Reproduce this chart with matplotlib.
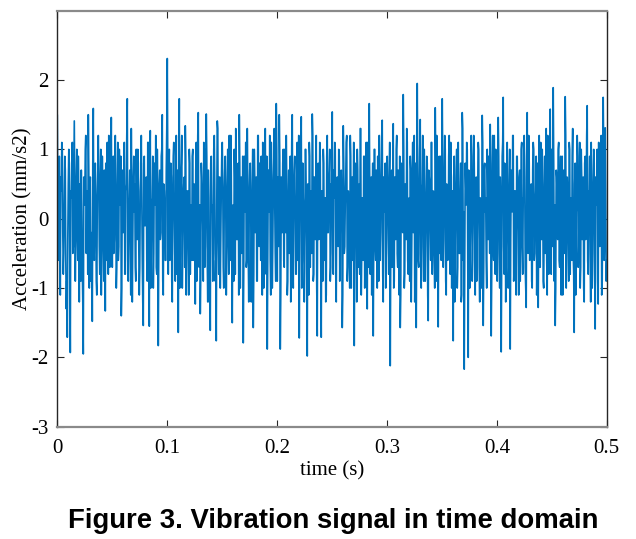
import matplotlib
matplotlib.use('Agg')
import matplotlib.pyplot as plt
import numpy as np

# acceleration samples, 0.05 s per block (even samples)
acc_000_005 = [1.49, -0.6, 0.9, -1.1, 0.4, 1.0, -0.8, 0.2, 0.7, -1.3, -1.71, 0.5, 0.8, -1.93, 0.3,
               1.1, -0.4, 1.41, -0.9, 0.6, -0.2, 0.9, -1.2, 0.1, 0.7, -0.7, -1.95, 0.4, 1.0, -0.5,
               0.2, 1.5, -1.0, 0.6, -0.3, -1.48, 1.59, -0.6, 0.8, -0.9, 0.3, 1.2, -0.4, 0.5, -1.1,
               0.9, -0.2, 0.7, -1.33, 0.4, 1.1, -0.8, 0.2, -0.5, 1.46]
acc_005_010 = [-0.7, 0.9, -0.3, 1.2, -1.0, 0.4, -0.6, 1.0, 0.2, -1.40, 0.7, -0.2, 1.1, -0.8, 0.5,
               1.73, -0.9, 0.3, -0.4, 1.3, -1.2, 0.6, 0.1, -0.7, 1.0, -0.3, 0.8, -1.1, 0.4, 1.2,
               -0.6, -1.54, 0.9, -0.1, 0.6, -0.9, 1.1, -1.55, 1.27, -0.5, 0.3, -1.0, 0.8, 0.2, -0.7,
               1.0, -1.83, 0.5, -0.3, 0.9, 1.5, -1.1, 0.4, -0.6, 0.7]
acc_010_015 = [2.31, -0.8, 1.0, -0.2, 0.6, -1.2, 0.9, 0.1, -0.9, 1.2, -0.4, -1.64, 1.73, -0.5, 0.8,
               -1.0, 0.3, 0.6, 1.34, -1.1, 0.4, -0.3, 1.0, -0.8, 0.2, 0.9, -0.6, 0.5, -1.23, 1.1,
               -0.2, 1.53, -0.7, -1.37, 0.8, 0.3, -0.9, 1.0, -0.4, 1.51, -0.6, 0.7, -1.2, -1.61, 0.9,
               0.2, -0.5, 1.2, -0.9, -1.76, 1.41, -0.3, 0.6, -1.0, 0.4]
acc_015_020 = [1.1, -0.7, 0.3, 0.9, -1.1, 0.5, -0.2, 1.2, -0.6, 0.7, -1.5, 0.2, 1.0, -0.8, 0.4,
               -0.3, 0.8, 1.5, -1.0, 0.6, -0.4, -1.79, 0.9, 0.1, -0.7, 1.3, -0.5, 0.3, 0.8, -1.2,
               0.5, -1.57, 1.0, -0.2, 0.6, -0.9, 1.2, -0.4, 0.2, 0.9, -1.1, 0.6, -0.3, 1.3, -0.8,
               -1.88, 0.7, 0.1, -0.6, 1.1, -1.0, 0.4, 1.3, -0.5, 1.66]
acc_020_025 = [-0.9, 0.3, 1.5, -1.88, 0.6, -0.2, 1.0, -0.7, 0.4, 1.2, -1.1, 0.2, -0.5, 0.9, -0.3,
               1.5, -1.0, 0.7, 0.1, -0.8, 1.1, -0.4, -1.72, 0.8, 1.47, -0.6, 0.3, -1.2, 1.0, 0.2,
               -1.98, 0.5, 1.1, -0.7, 0.4, 1.51, -0.9, 0.6, -0.3, 1.2, -1.69, 0.8, 0.1, 0.9, -1.71,
               0.4, 1.0, -0.6, 0.3, -1.1, 1.2, -0.2, 0.7, -0.9, 0.5]
acc_025_030 = [1.54, -0.8, 0.3, 1.0, -1.2, 0.6, -0.4, 0.9, -0.1, 0.7, -1.57, 1.34, -0.5, 0.2, 1.1,
               -0.9, 0.4, -0.3, 1.2, -1.0, 0.6, 0.1, -1.83, 0.8, -0.2, 1.0, -0.7, 0.5, 1.3, -1.1,
               0.3, -0.6, 0.9, -0.2, 1.1, -1.3, 0.4, 1.66, -0.8, 0.6, 0.2, -1.69, 1.0, -0.4, 0.7,
               -1.0, 0.3, 1.2, -0.6, 0.5, 1.42, -1.2, 0.2, 0.8, -0.5]
acc_030_035 = [0.9, -0.3, 0.6, -2.12, 0.4, -0.7, 1.37, -0.9, 0.2, 1.0, -0.5, 0.7, -1.1, -1.57, 0.8,
               0.1, 1.79, -1.0, 0.5, -0.3, 1.1, -0.8, 0.3, 0.9, -1.2, 0.6, -0.2, 1.2, -0.7, -1.57,
               1.95, -0.6, 0.3, 1.43, -1.0, 0.5, -0.4, 1.0, -0.9, 0.2, 0.8, -1.47, 0.6, -0.2, 1.1,
               -0.8, 0.4, -0.5, 1.6, -0.9, 0.7, -1.56, 0.9, 0.2, -0.6]
acc_035_040 = [1.73, -0.7, 0.4, 1.0, -1.1, 0.3, -0.4, 1.2, -0.8, 0.6, 0.1, -1.76, 0.9, -0.3, 0.7,
               -1.0, 1.1, -0.5, 0.3, -1.2, 1.53, -0.6, -2.17, 0.8, 0.2, 1.0, -2.0, 0.5, -0.4, 1.2,
               -0.9, 0.4, 0.8, -1.1, 0.6, -0.2, 1.1, -0.7, 0.3, -1.0, 1.49, -1.54, 0.7, 0.1, -0.6,
               1.0, -0.3, 0.5, 1.36, -1.69, 0.8, -0.4, 1.2, -0.8, 0.4]
acc_040_045 = [-0.9, 1.46, -0.5, 0.6, -1.92, 0.9, 1.75, -0.8, 0.2, -0.3, 1.1, -1.0, 0.5, -1.88, 0.7,
               0.1, 1.2, -0.6, 0.4, -1.1, 0.9, -0.2, 0.6, -0.9, 1.0, -0.4, 0.3, 1.2, -0.7, -1.28,
               1.53, -0.5, 0.8, -0.1, 0.5, -1.0, 1.1, -0.6, 0.2, 0.9, -0.3, -1.28, 1.2, -0.7, 0.4,
               1.0, -0.9, 0.2, -0.5, 1.3, -1.1, 0.6, -0.2, 1.58, -0.8]
acc_045_050 = [0.5, 1.89, -0.9, -1.54, 0.7, 0.2, 1.0, -0.6, 0.4, -1.1, 0.9, -0.3, 0.5, 1.76, -1.0,
               0.6, -0.2, 1.1, -0.8, 0.3, 0.9, -0.5, -1.64, 0.8, 0.1, 1.2, -0.7, 0.4, -1.0, 1.0,
               -0.3, 0.6, -1.2, 0.9, 0.2, 1.63, -0.8, 0.3, -0.5, 1.1, -1.0, 0.5, 0.8, -1.59, 0.6,
               1.0, -1.23, 0.4, -0.3, 1.2, -0.9, 1.75, -0.6, 1.31, -0.9]

# odd samples (in between the ones above)
mid_000_005 = [0.3, 0.1, -0.4, 0.6, 1.1, -0.2, -0.5, 0.9, -0.6, -0.9, -0.3,
               1.0, -0.7, 0.4, 0.8, -0.5, 0.6, 0.2, -0.3, 1.0, -0.6, 0.3,
               0.5, -0.9, 0.1, -1.2, 0.6, 0.2, 1.2, 0.4, -0.8, 0.7, 0.3,
               -0.9, -0.2, 0.8, -0.3, 0.4, 0.2, -1.1, 0.7, 0.6, -0.8, 1.0,
               -0.4, 0.3, -0.9, 0.1, 0.8, -0.6, 0.3, 1.2, -0.7, 0.6, -0.2]
mid_005_010 = [0.2, -0.5, 0.8, 0.3, -0.7, 1.1, -0.4, 0.5, 0.9, -1.0, 0.2,
               0.6, -0.8, 0.4, 1.2, -0.6, 0.1, 0.7, -1.1, 0.3, -0.2, 0.9,
               0.5, -0.9, 0.2, 1.0, -0.4, -0.7, 0.6, 0.3, -1.2, 0.8, -0.1,
               0.4, -0.6, 1.1, -0.3, 0.7, -1.0, 0.2, 0.9, -0.5, 0.6, 1.2,
               -0.8, 0.3, -0.4, 0.7, -0.2, 1.0, -0.9, 0.5, 0.1, -0.6, 1.3]
mid_010_015 = [0.9, 0.4, -0.6, 0.8, -0.9, 0.2, 1.1, -0.5, 0.3, -0.8, 0.7,
               0.2, -1.0, 0.6, 1.2, -0.3, 0.5, -0.7, 0.9, -0.2, 0.4, -1.1,
               0.8, 0.1, -0.6, 1.0, -0.4, 0.3, 0.7, -0.9, 1.2, -0.5, 0.2,
               -0.8, 0.6, -0.1, 1.1, -0.7, 0.4, 0.9, -1.2, 0.3, -0.5, 0.8,
               0.1, -0.9, 1.0, 0.5, -0.6, 0.2, 1.3, -0.8, 0.6, -0.3, 0.9]
mid_015_020 = [0.5, -1.0, 0.7, 0.2, -0.4, 1.0, -0.8, 0.3, 1.2, -0.6, 0.1,
               -0.9, 0.6, 1.3, -0.3, 0.4, -1.1, 0.8, 0.2, -0.5, 0.9, -0.7,
               0.3, 1.1, -0.6, 0.5, -1.2, 0.7, 0.1, -0.4, 1.0, -0.8, 0.6,
               0.2, -0.9, 1.2, -0.3, 0.8, -0.6, 0.4, 1.1, -1.0, 0.5, -0.2,
               0.9, -0.7, 0.3, 1.2, -1.1, 0.6, -0.4, 0.8, 0.2, -0.9, 1.0]
mid_020_025 = [0.6, -0.4, 0.9, -1.1, 0.3, 0.8, -0.6, 1.0, -0.2, 0.5, -0.9,
               0.7, 0.2, -1.2, 1.1, -0.5, 0.4, 0.9, -0.8, 0.3, -0.6, 1.2,
               -0.3, 0.6, -1.0, 0.8, 0.1, -0.7, 1.0, -0.4, 0.5, -1.1, 0.9,
               0.3, -0.5, 1.2, -0.8, 0.6, 0.2, -1.0, 0.7, -0.3, 1.1, -0.6,
               0.4, -0.9, 0.8, 0.1, -1.2, 0.9, -0.2, 0.5, 1.0, -0.7, 0.3]
mid_025_030 = [-0.5, 0.7, 1.1, -0.8, 0.2, -0.3, 1.0, -0.9, 0.5, 0.3, -1.1,
               0.8, -0.4, 0.6, 1.2, -0.7, 0.1, -1.0, 0.9, 0.4, -0.6, 1.1,
               -0.2, 0.5, -1.2, 0.7, 0.3, -0.8, 1.3, -0.5, 0.2, 0.9, -1.0,
               0.6, -0.3, 1.1, -0.7, 0.4, 0.2, -1.1, 0.8, -0.4, 1.0, -0.6,
               0.3, 0.9, -0.9, 0.5, -0.2, 1.2, -0.8, 0.6, 0.1, -1.0, 0.7]
mid_030_035 = [0.4, -0.8, 1.1, -0.5, 0.7, 0.2, -1.0, 0.6, -0.3, 1.2, -0.7,
               0.3, 0.9, -1.1, 0.5, -0.2, 1.0, -0.8, 0.4, 1.3, -0.6, 0.2,
               -0.9, 0.7, -0.4, 1.1, 0.3, -1.2, 0.8, -0.1, 0.6, -0.7, 1.0,
               -0.5, 0.4, 1.2, -0.9, 0.2, -0.3, 0.9, -1.1, 0.7, 0.5, -0.6,
               1.1, -0.4, 0.3, -1.0, 0.8, 1.2, -0.7, 0.2, -0.5, 0.9, -0.3]
mid_035_040 = [0.8, -0.3, 1.2, -0.9, 0.5, -0.6, 0.9, -0.2, 1.1, -1.0, 0.4,
               0.6, -1.2, 0.3, 1.0, -0.7, 0.2, -0.5, 0.8, -1.1, 1.3, 0.1,
               -0.8, 0.5, 1.1, -0.4, 0.7, -1.0, 0.3, 0.9, -0.6, 1.2, -0.2,
               0.4, -0.9, 0.6, 1.0, -1.2, 0.2, -0.3, 1.1, -0.7, 0.8, 0.3,
               -1.0, 0.5, 0.9, -0.5, 0.2, -0.8, 1.2, -0.6, 0.4, 1.0, -0.4]
mid_040_045 = [0.3, 0.9, -1.0, 0.2, -0.6, 1.1, -0.4, 0.8, -1.2, 0.5, 0.1,
               -0.7, 1.0, -0.3, 0.6, 1.2, -0.9, 0.4, -0.5, 0.9, 0.2, -1.1,
               0.7, -0.2, 1.1, -0.8, 0.3, 0.6, -1.0, 0.9, -0.4, 1.2, -0.6,
               0.2, -0.9, 0.7, 1.0, -0.5, 0.4, -1.1, 0.8, 0.1, -0.7, 1.1,
               -0.3, 0.5, -1.0, 0.9, 0.3, -0.6, 1.2, -0.8, 0.6, -0.2, 1.0]
mid_045_050 = [-0.4, 0.8, 0.2, -1.0, 0.6, -0.3, 1.1, -0.7, 0.9, 0.1, -1.1,
               0.7, -0.5, 1.2, -0.2, 0.4, -0.9, 1.0, 0.3, -0.6, 1.3, -0.8,
               0.5, -1.1, 0.2, 0.9, -0.4, 1.1, -0.7, 0.6, 0.2, -1.0, 0.8,
               -0.3, 1.2, -0.6, 0.4, 0.9, -1.2, 0.3, -0.5, 1.0, -0.8, 0.6,
               0.2, -0.9, 1.1, -0.4, 0.7, -1.1, 0.5, 0.9, -0.2, 0.4, -0.6]

even = (acc_000_005 + acc_005_010 + acc_010_015 + acc_015_020 + acc_020_025
        + acc_025_030 + acc_030_035 + acc_035_040 + acc_040_045 + acc_045_050)
odd = (mid_000_005 + mid_005_010 + mid_010_015 + mid_015_020 + mid_020_025
       + mid_025_030 + mid_030_035 + mid_035_040 + mid_040_045 + mid_045_050)
accel = np.column_stack([even, odd]).ravel()
t = np.linspace(0, 0.5, len(accel))

xticks = [0, 0.1, 0.2, 0.3, 0.4, 0.5]
xticklabels = ['0', '0.1', '0.2', '0.3', '0.4', '0.5']
yticks = [-3, -2, -1, 0, 1, 2]

serif = 'Liberation Serif'

fig = plt.figure(figsize=(6.36, 5.39), dpi=100)
ax = fig.add_axes([57.3 / 636, 112.3 / 539, 549.4 / 636, 416 / 539])

ax.plot(t, accel, color='#0072BD', lw=1.2)

ax.set_xlim(0, 0.5)
ax.set_ylim(-3, 3)
ax.set_xticks(xticks)
ax.set_xticklabels(xticklabels)
ax.set_yticks(yticks)
ax.set_yticklabels([str(v) for v in yticks])
ax.tick_params(direction='in', length=5, width=0.8, top=True, right=True,
               labelsize=15, colors='#262626')
ax.tick_params(axis='x', pad=9)
ax.tick_params(axis='y', pad=6)
for lab in ax.get_xticklabels() + ax.get_yticklabels():
    lab.set_family(serif)
    lab.set_color('black')

for side in ['left', 'right']:
    ax.spines[side].set_color('#262626')
    ax.spines[side].set_linewidth(1.0)
for side in ['top', 'bottom']:
    ax.spines[side].set_color('#8a8a8a')
    ax.spines[side].set_linewidth(1.6)

ax.set_xlabel('time (s)', family=serif, fontsize=15, labelpad=2)
ax.set_ylabel('Acceleration (mm/s2)', family=serif, fontsize=15, labelpad=-1)

fig.text(0.524, 0.034, 'Figure 3. Vibration signal in time domain', ha='center', va='center',
         family='Liberation Sans', fontweight='bold', fontsize=19.8)

fig.savefig('out.png', dpi=100)
